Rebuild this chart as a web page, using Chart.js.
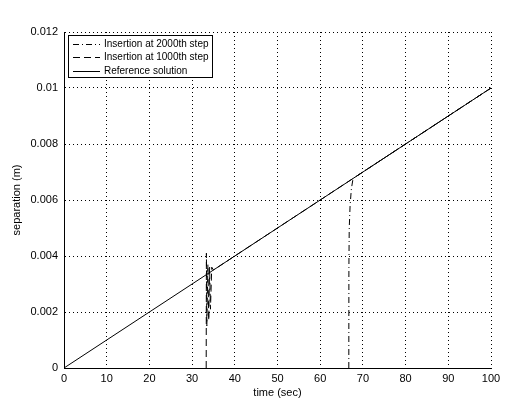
<!DOCTYPE html>
<html>
<head>
<meta charset="utf-8">
<script src="https://cdn.jsdelivr.net/npm/chart.js@4"></script>
<style>
    html, body { margin: 0; padding: 0; background: #fff; }
    #wrap { width: 506px; height: 401px; }
</style>
</head>
<body>
<div id="wrap"><canvas id="sepChart" width="506" height="401"></canvas></div>
<script>
// insertion at 2000th step (dash-dot) - sits on the axis (0) until the jump
const t2000 = [66.7, 66.72, 66.8, 67.0, 67.3, 67.7, 100];
const s2000 = [0, 0.0036, 0.0050, 0.0058, 0.0064, 0.00677, 0.01];

// insertion at 1000th step (dashed)
const t1000 = [33.3, 33.35, 33.45, 33.7, 33.9, 34.1, 34.3, 34.6, 35.0, 100];
const s1000 = [0, 0.0041, 0.0015, 0.0037, 0.0017, 0.0036, 0.0021, 0.0036, 0.0035, 0.01];

// reference solution (solid)
const tRef = [0, 100];
const sRef = [0, 0.01];

const xTickLabels = ['0', '10', '20', '30', '40', '50', '60', '70', '80', '90', '100'];
const yTickLabels = ['0', '0.002', '0.004', '0.006', '0.008', '0.01', '0.012'];

const toPoints = (xs, ys) => xs.map((x, i) => ({ x: x, y: ys[i] }));

const FONT = 'Liberation Sans, Arial, Helvetica, sans-serif';

// matlab-style legend box in the upper left corner
const boxLegend = {
    id: 'boxLegend',
    afterDraw(chart) {
        const ctx = chart.ctx;
        const x0 = 68.5, y0 = 35.5, w = 144, h = 42;
        ctx.save();
        ctx.fillStyle = '#fff';
        ctx.fillRect(x0, y0, w, h);
        ctx.strokeStyle = '#000';
        ctx.lineWidth = 1;
        ctx.strokeRect(x0, y0, w, h);
        ctx.font = '10px ' + FONT;
        ctx.textBaseline = 'middle';
        ctx.fillStyle = '#000';
        chart.data.datasets.forEach((ds, i) => {
            const y = Math.round(y0 + 8.5 + i * 13.3) + 0.5;
            ctx.setLineDash(ds.borderDash || []);
            ctx.beginPath();
            ctx.moveTo(73, y);
            ctx.lineTo(100, y);
            ctx.stroke();
            ctx.setLineDash([]);
            ctx.fillText(ds.label, 104, y);
        });
        ctx.restore();
    }
};

const sepCtx = document.getElementById('sepChart').getContext('2d');
const sepChart = new Chart(sepCtx, {
    type: 'line',
    data: {
        datasets: [
            {
                label: 'Insertion at 2000th step',
                data: toPoints(t2000, s2000),
                borderColor: '#000',
                borderWidth: 1,
                borderDash: [6, 3, 1, 3],
                pointRadius: 0,
                tension: 0
            },
            {
                label: 'Insertion at 1000th step',
                data: toPoints(t1000, s1000),
                borderColor: '#000',
                borderWidth: 1,
                borderDash: [7, 4],
                pointRadius: 0,
                tension: 0
            },
            {
                label: 'Reference solution',
                data: toPoints(tRef, sRef),
                borderColor: '#000',
                borderWidth: 1,
                pointRadius: 0,
                tension: 0
            }
        ]
    },
    options: {
        responsive: false,
        animation: false,
        devicePixelRatio: 1,
        layout: {
            padding: { top: 32, right: 15, left: 0, bottom: 0 }
        },
        scales: {
            x: {
                type: 'linear',
                min: 0,
                max: 100,
                afterFit: (scale) => { scale.height = 33; },
                ticks: {
                    stepSize: 10,
                    color: '#000',
                    padding: 4,
                    maxRotation: 0,
                    font: { family: FONT, size: 11 },
                    callback: (v, i) => xTickLabels[i]
                },
                grid: {
                    color: '#000',
                    lineWidth: 1,
                    drawTicks: false
                },
                border: { display: true, color: '#000', width: 1, dash: [1, 3] },
                title: {
                    display: true,
                    text: 'time (sec)',
                    color: '#000',
                    font: { family: FONT, size: 11 },
                    padding: { top: 0, bottom: 1 }
                }
            },
            y: {
                type: 'linear',
                min: 0,
                max: 0.012,
                afterFit: (scale) => { scale.width = 64; },
                ticks: {
                    stepSize: 0.002,
                    color: '#000',
                    padding: 6,
                    font: { family: FONT, size: 11 },
                    callback: (v, i) => yTickLabels[i]
                },
                grid: {
                    color: '#000',
                    lineWidth: 1,
                    drawTicks: false
                },
                border: { display: true, color: '#000', width: 1, dash: [1, 3] },
                title: {
                    display: true,
                    text: 'separation (m)',
                    color: '#000',
                    font: { family: FONT, size: 11 },
                    padding: { top: 10, bottom: 0 }
                }
            }
        },
        plugins: {
            legend: { display: false },
            tooltip: { enabled: false }
        }
    },
    plugins: [boxLegend]
});
</script>
</body>
</html>
